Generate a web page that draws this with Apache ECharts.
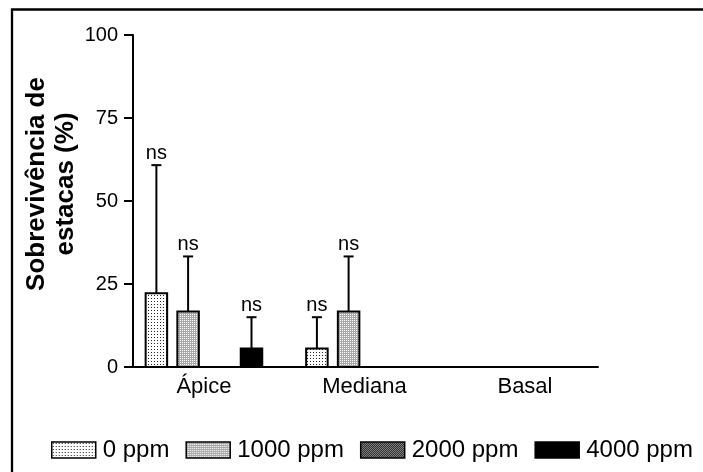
<!DOCTYPE html>
<html lang="pt">

<head>
    <meta charset="UTF-8">
    <title>Sobrevivência de estacas</title>
    <script src="https://cdn.jsdelivr.net/npm/echarts@6.0.0/dist/echarts.min.js"></script>
    <style>
        html, body { margin: 0; padding: 0; background: #fff; }
        #main { width: 703px; height: 472px; }
    </style>
</head>

<body>
    <div id="main"></div>
    <script>
        // data
        const categories = ['Ápice', 'Mediana', 'Basal'];
        const doses = ['0 ppm', '1000 ppm', '2000 ppm', '4000 ppm'];
        const mean0 = [22.2, 5.6, 0];
        const sd0 = [38.6, 9.4, 0];
        const mean1000 = [16.7, 16.7, 0];
        const sd1000 = [16.6, 16.6, 0];
        const mean2000 = [0, 0, 0];
        const sd2000 = [0, 0, 0];
        const mean4000 = [5.6, 0, 0];
        const sd4000 = [9.4, 0, 0];
        const yTicks = [0, 25, 50, 75, 100];

        const means = [mean0, mean1000, mean2000, mean4000];
        const sds = [sd0, sd1000, sd2000, sd4000];

        const FONT = '"Liberation Sans", Arial, sans-serif';

        // small fill patterns like the GraphPad hatches
        function pattern(size, bg, dots) {
            const c = document.createElement('canvas');
            c.width = size; c.height = size;
            const ctx = c.getContext('2d');
            ctx.fillStyle = bg;
            ctx.fillRect(0, 0, size, size);
            dots.forEach(d => {
                ctx.fillStyle = d[2];
                ctx.fillRect(d[0], d[1], 1, 1);
            });
            return { image: c, repeat: 'repeat' };
        }
        const fills = [
            pattern(3, '#ffffff', [[1, 1, '#222']]),
            pattern(2, '#a8a8a8', [[0, 0, '#ffffff']]),
            pattern(2, '#a0a0a0', [[0, 0, '#111'], [1, 1, '#111']]),
            '#000000'
        ];

        const STEP = 0.1975;   // bar spacing, in category units
        const BAR_W = 0.134;   // bar width, in category units

        function renderItem(params, api) {
            const cat = api.value(0);
            const m = api.value(1);
            const sd = api.value(2);
            const band = api.size([1, 0])[0];
            const base = api.coord([cat, 0]);
            const cx = base[0] + (params.seriesIndex - 1.5) * STEP * band;
            const w = BAR_W * band;
            const top = api.coord([cat, m])[1];
            const children = [{
                type: 'rect',
                shape: { x: cx - w / 2, y: top, width: w, height: base[1] - top },
                style: api.style({ stroke: '#000', lineWidth: 2 })
            }];
            if (sd > 0) {
                const ey = api.coord([cat, m + sd])[1];
                children.push({
                    type: 'line',
                    shape: { x1: cx, y1: top, x2: cx, y2: ey },
                    style: { stroke: '#000', lineWidth: 2 }
                }, {
                    type: 'line',
                    shape: { x1: cx - 5, y1: ey, x2: cx + 5, y2: ey },
                    style: { stroke: '#000', lineWidth: 2 }
                }, {
                    type: 'text',
                    style: {
                        text: 'ns', x: cx, y: ey - 2, align: 'center', verticalAlign: 'bottom',
                        fill: '#000', font: '20px ' + FONT
                    }
                });
            }
            return { type: 'group', children: children };
        }

        const series = doses.map((name, i) => ({
            name: name,
            type: 'custom',
            renderItem: renderItem,
            itemStyle: { color: fills[i], borderColor: '#000', borderWidth: 2 },
            data: categories.map((c, j) => [j, means[i][j], sds[i][j]])
        }));

        const chart = echarts.init(document.getElementById('main'));
        chart.setOption({
            animation: false,
            backgroundColor: '#fff',
            textStyle: { fontFamily: FONT },
            grid: { left: 133, top: 35, height: 332, right: 105 },
            xAxis: {
                type: 'value',
                min: -0.442,
                max: 2.455,
                splitLine: { show: false },
                axisLine: { lineStyle: { color: '#000', width: 2 } },
                axisTick: { show: false },
                axisLabel: {
                    customValues: [0, 1, 2],
                    formatter: v => categories[Math.round(v)],
                    color: '#000', fontSize: 22, margin: 9, fontFamily: FONT
                }
            },
            yAxis: {
                type: 'value',
                min: 0,
                max: 100,
                interval: 25,
                splitLine: { show: false },
                axisLine: { show: true, onZero: false, lineStyle: { color: '#000', width: 2 } },
                axisTick: { show: true, length: 9, lineStyle: { color: '#000', width: 2 } },
                axisLabel: {
                    color: '#000', fontSize: 20, margin: 15, fontFamily: FONT,
                    formatter: v => yTicks.includes(v) ? String(v) : ''
                }
            },
            legend: {
                data: doses,
                left: 46,
                top: 433,
                itemWidth: 44,
                itemHeight: 16,
                itemGap: 16,
                icon: 'rect',
                itemStyle: { borderColor: '#000', borderWidth: 1.5 },
                textStyle: { fontSize: 24, color: '#000', fontFamily: FONT, padding: [0, 0, 0, 2] }
            },
            graphic: [
                {
                    type: 'rect',
                    shape: { x: 12, y: 9.5, width: 760, height: 520 },
                    style: { fill: 'none', stroke: '#000', lineWidth: 2.3 },
                    silent: true
                },
                {
                    type: 'text',
                    x: 51,
                    y: 184,
                    rotation: Math.PI / 2,
                    style: {
                        text: 'Sobrevivência de\nestacas (%)',
                        align: 'center',
                        verticalAlign: 'middle',
                        font: 'bold 26px ' + FONT,
                        lineHeight: 29,
                        fill: '#000'
                    }
                }
            ],
            series: series
        });

        window.addEventListener('resize', function () {
            chart.resize();
        });
    </script>
</body>

</html>
